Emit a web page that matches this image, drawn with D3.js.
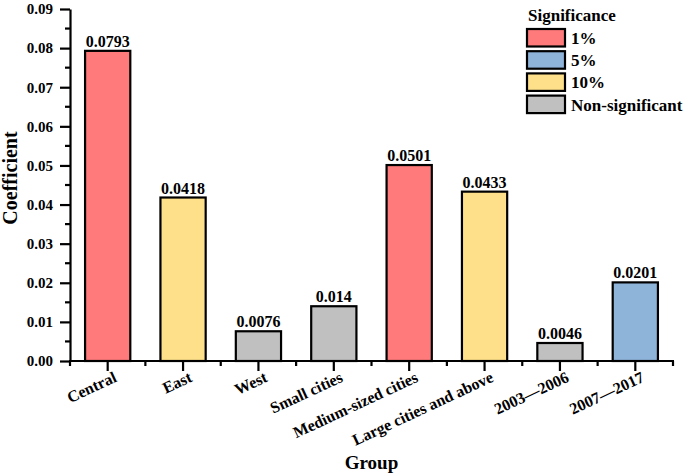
<!DOCTYPE html>
<html><head><meta charset="utf-8">
<script src="https://cdn.jsdelivr.net/npm/d3@7"></script>
<style>
body{margin:0;background:#fff;}
svg{display:block;}
svg text{font-family:"Liberation Serif","Times New Roman",serif !important;font-weight:bold;fill:#000;}
</style></head>
<body>
<svg id="chart" width="685" height="474"></svg>
<script>
const categories = ["Central","East","West","Small cities","Medium-sized cities","Large cities and above","2003\u20142006","2007\u20142017"];
const values = [0.0793,0.0418,0.0076,0.014,0.0501,0.0433,0.0046,0.0201];
const valueLabels = ["0.0793","0.0418","0.0076","0.014","0.0501","0.0433","0.0046","0.0201"];
const significance = ["1%","10%","Non-significant","Non-significant","1%","10%","Non-significant","5%"];
const legendLevels = ["1%","5%","10%","Non-significant"];
const levelColors = ["#FF7B7B","#8FB4DA","#FFE08A","#C0C0C0"];
const yTicks = [0,0.01,0.02,0.03,0.04,0.05,0.06,0.07,0.08,0.09];
const yTickLabels = ["0.00","0.01","0.02","0.03","0.04","0.05","0.06","0.07","0.08","0.09"];

const svg = d3.select("#chart");
const mLeft = 70, mRight = 673, mTop = 9, mBottom = 361;

const x = d3.scaleBand().domain(categories).range([mLeft, mRight]).paddingInner(0.4).paddingOuter(0.2);
const y = d3.scaleLinear().domain([0, 0.09]).range([mBottom, mTop]);
const color = d3.scaleOrdinal().domain(legendLevels).range(levelColors);

// bars
svg.append("g").selectAll("rect").data(categories).join("rect")
  .attr("x", d => x(d))
  .attr("y", (d,i) => y(values[i]))
  .attr("width", x.bandwidth())
  .attr("height", (d,i) => y(0) - y(values[i]))
  .attr("fill", (d,i) => color(significance[i]))
  .attr("stroke", "#000").attr("stroke-width", 2.2);

// value labels
svg.append("g").selectAll("text").data(categories).join("text")
  .attr("x", d => x(d) + x.bandwidth()/2)
  .attr("y", (d,i) => y(values[i]) - 4)
  .attr("text-anchor", "middle")
  .attr("font-size", 16)
  .text((d,i) => valueLabels[i]);

// y axis
const yAxis = d3.axisLeft(y).tickValues(yTicks).tickFormat((d,i) => yTickLabels[i]).tickSize(10).tickPadding(7).tickSizeOuter(0);
const gy = svg.append("g").attr("transform", `translate(${mLeft},0)`).call(yAxis);
gy.select(".domain").attr("stroke-width", 2.2);
gy.selectAll(".tick line").attr("stroke-width", 2.2);
gy.selectAll(".tick text").attr("font-size", 15);
const yMinor = d3.range(0.005, 0.09, 0.01);
gy.append("g").selectAll("line").data(yMinor).join("line")
  .attr("x1", -5).attr("x2", 0)
  .attr("y1", d => y(d)).attr("y2", d => y(d))
  .attr("stroke", "#000").attr("stroke-width", 2.2);

// x axis
const xAxis = d3.axisBottom(x).tickSize(10).tickSizeOuter(0).tickFormat("");
const gx = svg.append("g").attr("transform", `translate(0,${mBottom})`).call(xAxis);
gx.select(".domain").attr("stroke-width", 2.2).attr("d", `M${mLeft-1},0H${mRight+1}`);
gx.selectAll(".tick line").attr("stroke-width", 2.2);
const boundaries = d3.range(categories.length + 1).map(i => mLeft + i * x.step());
gx.append("g").selectAll("line").data(boundaries).join("line")
  .attr("x1", d => d).attr("x2", d => d)
  .attr("y1", 0).attr("y2", 5)
  .attr("stroke", "#000").attr("stroke-width", 2.2);

// x tick labels (rotated)
svg.append("g").selectAll("text").data(categories).join("text")
  .attr("transform", d => `translate(${x(d) + x.bandwidth()/2 + 10},${mBottom + 20}) rotate(-25)`)
  .attr("text-anchor", "end")
  .attr("font-size", 16)
  .text(d => d);

// axis titles
svg.append("text")
  .attr("transform", `translate(17,178) rotate(-90)`)
  .attr("text-anchor", "middle")
  .attr("font-size", 20)
  .text("Coefficient");
svg.append("text")
  .attr("x", (mLeft + mRight)/2).attr("y", 469)
  .attr("text-anchor", "middle")
  .attr("font-size", 19)
  .text("Group");

// legend
const lg = svg.append("g");
lg.append("text").attr("x", 528).attr("y", 21).attr("font-size", 17).text("Significance");
const item = lg.selectAll("g.item").data(legendLevels).join("g").attr("class", "item")
  .attr("transform", (d,i) => `translate(527,${29 + i*22.2})`);
item.append("rect").attr("width", 38).attr("height", 17.5)
  .attr("fill", d => color(d)).attr("stroke", "#000").attr("stroke-width", 2.2);
item.append("text").attr("x", 44).attr("y", 15).attr("font-size", 17).text(d => d);
</script>
</body></html>
